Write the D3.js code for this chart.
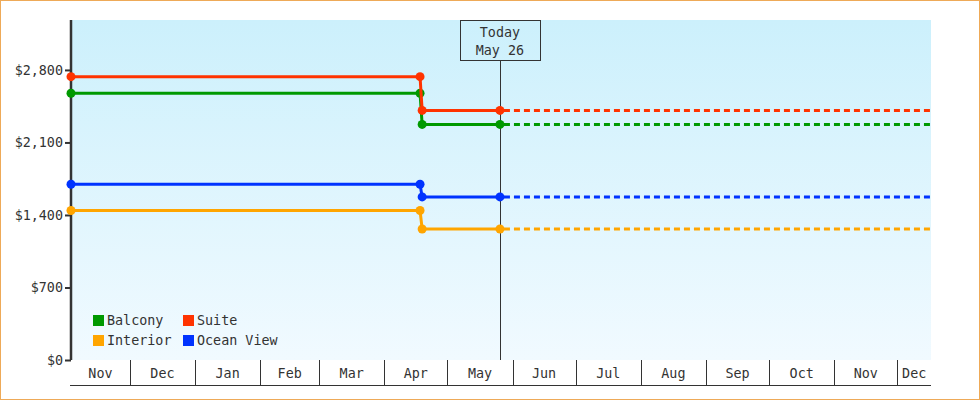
<!DOCTYPE html>
<html>
<head>
<meta charset="utf-8">
<script src="https://cdn.jsdelivr.net/npm/d3@7"></script>
<style>
  body { margin: 0; background: #fff; }
  svg { display: block; font-family: "DejaVu Sans Mono", monospace; font-size: 13.4px; }
  .axis text { fill: #333; font-family: "DejaVu Sans Mono", monospace; font-size: 13.4px; }
</style>
</head>
<body>
<svg id="chart" width="980" height="400"></svg>
<script>
// price history: start, last day of old price, first day of new price, today
var dates = ['2014-11-03', '2015-04-18', '2015-04-19', '2015-05-26'];
var endDate = '2015-12-17';
var today = '2015-05-26';

var seriesNames = ['Balcony', 'Suite', 'Interior', 'Ocean View'];
var seriesColors = ['#009900', '#ff3300', '#ffa500', '#0033ff'];
var balcony = [2575, 2575, 2274, 2274];
var suite = [2735, 2735, 2409, 2409];
var interior = [1443, 1443, 1265, 1265];
var oceanView = [1696, 1696, 1574, 1574];
var yTicks = [0, 700, 1400, 2100, 2800];

var svg = d3.select('#chart');
var W = 980, H = 400;
var m = {left: 71, right: 49, top: 20, bottom: 40};
var parse = d3.utcParse('%Y-%m-%d');

var series = [balcony, suite, interior, oceanView].map(function (vals, i) {
    return {
        name: seriesNames[i],
        color: seriesColors[i],
        points: vals.map(function (v, j) { return {date: parse(dates[j]), value: v}; })
    };
});

var x = d3.scaleUtc()
    .domain([parse(dates[0]), parse(endDate)])
    .range([m.left, W - m.right]);
var maxVal = d3.max(series, function (s) { return d3.max(s.points, function (p) { return p.value; }); });
var y = d3.scaleLinear()
    .domain([0, maxVal * 1.2])
    .range([H - m.bottom, m.top]);

// outer frame
svg.append('rect').attr('x', 0.5).attr('y', 0.5).attr('width', W - 1).attr('height', H - 1)
    .attr('fill', '#fff').attr('stroke', '#eeaa58');

// plot background
var grad = svg.append('defs').append('linearGradient').attr('id', 'bg')
    .attr('x1', 0).attr('y1', 0).attr('x2', 0).attr('y2', 1);
grad.append('stop').attr('offset', '0%').attr('stop-color', '#ccf0fc');
grad.append('stop').attr('offset', '100%').attr('stop-color', '#f1faff');
svg.append('rect')
    .attr('x', m.left).attr('y', m.top)
    .attr('width', W - m.right - m.left).attr('height', H - m.bottom - m.top)
    .attr('fill', 'url(#bg)');

// x band of months
var x0 = x.range()[0], x1 = x.range()[1];
var bandTop = H - m.bottom, bandBot = bandTop + 25;
var months = x.ticks(d3.utcMonth.every(1));
var bounds = [x0].concat(months.map(x)).concat([x1]);
var band = svg.append('g').attr('class', 'axis x-band');
band.append('line').attr('x1', x0 - 1).attr('x2', x1).attr('y1', bandBot + 0.5).attr('y2', bandBot + 0.5)
    .attr('stroke', '#333');
band.selectAll('line.sep').data(months).enter().append('line').attr('class', 'sep')
    .attr('x1', function (d) { return Math.round(x(d)) + 0.5; })
    .attr('x2', function (d) { return Math.round(x(d)) + 0.5; })
    .attr('y1', bandTop).attr('y2', bandBot)
    .attr('stroke', '#333');
var labelStarts = [parse(dates[0])].concat(months);
band.selectAll('text').data(labelStarts).enter().append('text')
    .attr('x', function (d, i) { return (bounds[i] + bounds[i + 1]) / 2; })
    .attr('y', bandTop + 18)
    .attr('text-anchor', 'middle')
    .text(d3.utcFormat('%b'));

// y axis
var yAxis = d3.axisLeft(y).tickValues(yTicks).tickSize(6).tickPadding(2)
    .tickFormat(function (d) { return '$' + d3.format(',')(d); });
var gy = svg.append('g').attr('class', 'axis').attr('transform', 'translate(' + m.left + ',0)').call(yAxis);
gy.select('.domain').attr('stroke', '#333').attr('stroke-width', 2.5).attr('d', 'M0,' + m.top + 'V' + (H - m.bottom));
gy.selectAll('.tick line').attr('stroke', '#333').attr('stroke-width', 2);

// today marker
var tx = x(parse(today));
svg.append('line').attr('x1', Math.round(tx) + 0.5).attr('x2', Math.round(tx) + 0.5)
    .attr('y1', 61).attr('y2', H - m.bottom).attr('stroke', '#333');
svg.append('rect').attr('x', Math.round(tx) - 39.5).attr('y', 20.5).attr('width', 80).attr('height', 40)
    .attr('fill', 'none').attr('stroke', '#333');
svg.append('text').attr('x', tx).attr('y', 37).attr('text-anchor', 'middle').attr('fill', '#333').text('Today');
svg.append('text').attr('x', tx).attr('y', 55).attr('text-anchor', 'middle').attr('fill', '#333')
    .text(d3.utcFormat('%b %-d')(parse(today)));

// lines
var line = d3.line().x(function (p) { return x(p.date); }).y(function (p) { return y(p.value); });
var gs = svg.selectAll('g.series').data(series).enter().append('g').attr('class', 'series');
gs.append('path')
    .attr('d', function (s) { return line(s.points); })
    .attr('fill', 'none').attr('stroke', function (s) { return s.color; }).attr('stroke-width', 3);
gs.append('path')
    .attr('d', function (s) {
        var last = s.points[s.points.length - 1];
        return line([last, {date: parse(endDate), value: last.value}]);
    })
    .attr('fill', 'none').attr('stroke', function (s) { return s.color; }).attr('stroke-width', 3)
    .attr('stroke-dasharray', '6,4').attr('stroke-dashoffset', -4);
gs.selectAll('circle').data(function (s) { return s.points.map(function (p) { return {p: p, c: s.color}; }); })
    .enter().append('circle')
    .attr('cx', function (d) { return x(d.p.date); })
    .attr('cy', function (d) { return y(d.p.value); })
    .attr('r', 4.5)
    .attr('fill', function (d) { return d.c; });

// legend
var legend = svg.append('g').attr('class', 'legend');
var lg = legend.selectAll('g').data(series).enter().append('g')
    .attr('transform', function (s, i) {
        return 'translate(' + (93 + (i % 2) * 90) + ',' + (315 + Math.floor(i / 2) * 20) + ')';
    });
lg.append('rect').attr('width', 11).attr('height', 11).attr('fill', function (s) { return s.color; });
lg.append('text').attr('x', 14).attr('y', 10).attr('fill', '#333').text(function (s) { return s.name; });
</script>
</body>
</html>
